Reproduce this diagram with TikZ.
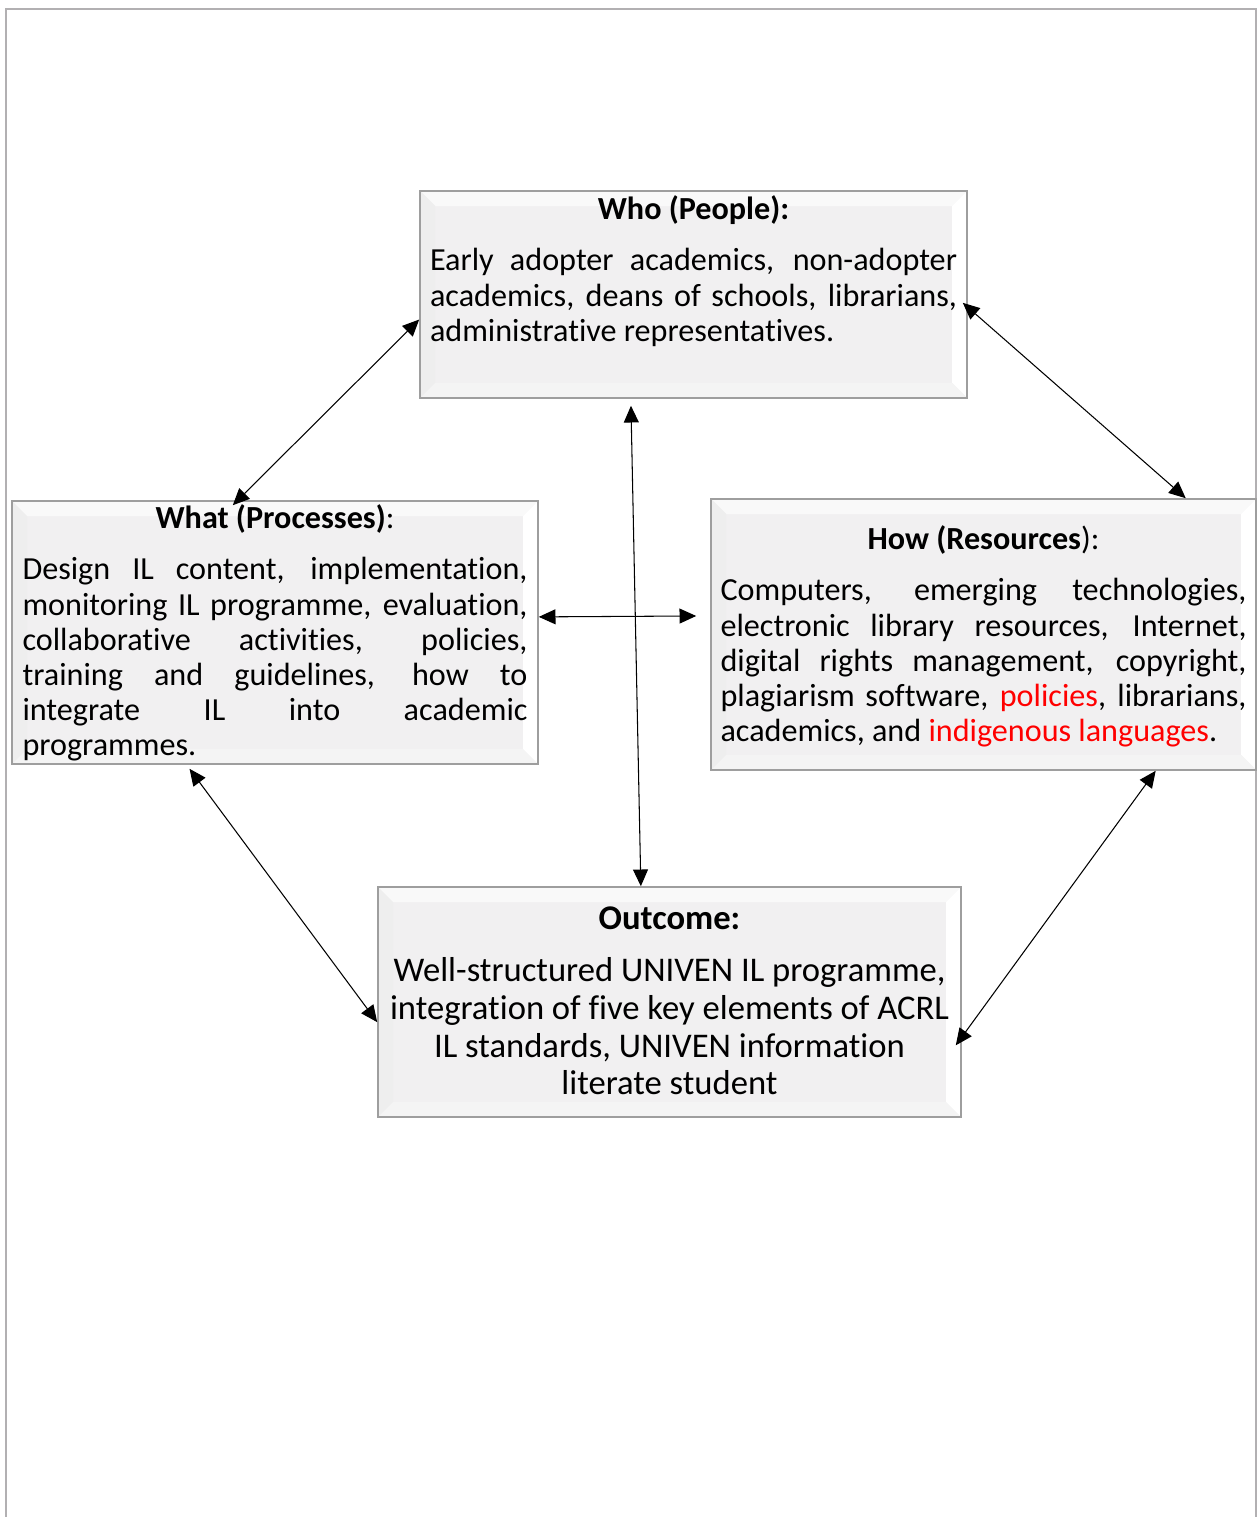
\documentclass[tikz,border=0pt]{standalone}
\usepackage{fontspec}
\setmainfont{Carlito}[Ligatures=NoCommon]
\usetikzlibrary{arrows.meta,calc}

\definecolor{facegray}{RGB}{241,240,241}
\definecolor{edgegray}{RGB}{158,158,158}
\definecolor{framegray}{RGB}{178,176,178}

\newcommand{\bodyfont}{\fontsize{18.3}{20}\selectfont\hyphenpenalty=10000\exhyphenpenalty=10000}
\newcommand{\outfont}{\fontsize{19.7}{21.5}\selectfont\hyphenpenalty=10000}

\tikzset{
  bevelbox/.style={draw=edgegray, line width=0.9pt, fill=facegray, inner sep=0pt,
    path picture={
      \coordinate (nw) at (path picture bounding box.north west);
      \coordinate (ne) at (path picture bounding box.north east);
      \coordinate (sw) at (path picture bounding box.south west);
      \coordinate (se) at (path picture bounding box.south east);
      \fill[gray!5] (nw) -- (ne) -- ($(ne)+(-0.3,-0.3)$) -- ($(nw)+(0.3,-0.3)$) -- cycle;
      \fill[gray!13] (nw) -- ($(nw)+(0.3,-0.3)$) -- ($(sw)+(0.3,0.3)$) -- (sw) -- cycle;
      \fill[white] (ne) -- (se) -- ($(se)+(-0.3,0.3)$) -- ($(ne)+(-0.3,-0.3)$) -- cycle;
      \fill[gray!9] (sw) -- (se) -- ($(se)+(-0.3,0.3)$) -- ($(sw)+(0.3,0.3)$) -- cycle;
    }},
  link/.style={{Triangle[length=9.5pt,width=8.5pt]}-{Triangle[length=9.5pt,width=8.5pt]}, line width=0.6pt},
}

\begin{document}
\begin{tikzpicture}
\useasboundingbox (0,0) rectangle (25.16,-30.34);

% page frame
\draw[framegray, line width=1.1pt] (0.12,-30.34) -- (0.12,-0.18) -- (25.12,-0.18) -- (25.12,-30.34);

\node[bevelbox, minimum width=10.94cm, minimum height=4.14cm] (who) at (13.87,-5.89) {%
  \begin{minipage}[c][4.14cm][t]{10.54cm}\bodyfont
  {\centering\bfseries\rule{0pt}{16.5pt}Who (People):\par}\vspace{9pt}
  Early adopter academics, non-adopter\linebreak
  academics, deans of schools, librarians,\linebreak
  administrative representatives.
  \end{minipage}};

\node[bevelbox, minimum width=10.52cm, minimum height=5.26cm] (what) at (5.50,-12.65) {%
  \begin{minipage}[c][5.26cm][t]{10.10cm}\bodyfont
  {\centering\rule{0pt}{15.9pt}\textbf{What (Processes)}:\par}\vspace{9pt}
  Design IL content, implementation,\linebreak
  monitoring IL programme, evaluation,\linebreak
  collaborative activities, policies,\linebreak
  training and guidelines, how to\linebreak
  integrate IL into academic\linebreak
  programmes.
  \end{minipage}};

\node[bevelbox, minimum width=10.90cm, minimum height=5.42cm] (how) at (19.67,-12.69) {%
  \begin{minipage}[c][5.42cm][t]{10.52cm}\bodyfont
  {\centering\rule{0pt}{29pt}\textbf{How (Resources}):\par}\vspace{9pt}
  Computers, emerging technologies,\linebreak
  electronic library resources, Internet,\linebreak
  digital rights management, copyright,\linebreak
  plagiarism software, \textcolor{red}{policies}, librarians,\linebreak
  academics, and \textcolor{red}{indigenous languages}.
  \end{minipage}};

\node[bevelbox, minimum width=11.66cm, minimum height=4.60cm] (outcome) at (13.39,-20.04) {%
  \begin{minipage}[c][4.60cm][t]{11.30cm}\outfont\centering
  {\bfseries\rule{0pt}{24.3pt}Outcome:\par}\vspace{8pt}
  Well-structured UNIVEN IL programme,\\
  integration of five key elements of ACRL\\
  IL standards, UNIVEN information\\
  literate student
  \end{minipage}};

\draw[link] ($(who.north west)!0.62!(who.south west)$) -- ($(what.north west)!0.42!(what.north east)+(0,-0.1)$);
\draw[link] ($(who.north east)!0.54!(who.south east)+(-0.1,0)$) -- ($(how.north west)!0.87!(how.north east)$);
\draw[link] ($(who.south west)!0.386!(who.south east)+(0,-0.14)$) -- ($(outcome.north west)!0.451!(outcome.north east)$);
\draw[link] ($(what.north east)!0.441!(what.south east)$) -- ($(how.north west)!0.432!(how.south west)+(-0.28,0)$);
\draw[link] ($(what.south west)!0.338!(what.south east)+(0,-0.08)$) -- ($(outcome.north west)!0.587!(outcome.south west)$);
\draw[link] ($(how.south west)!0.815!(how.south east)$) -- ($(outcome.north east)!0.687!(outcome.south east)+(-0.12,0)$);
\end{tikzpicture}
\end{document}
